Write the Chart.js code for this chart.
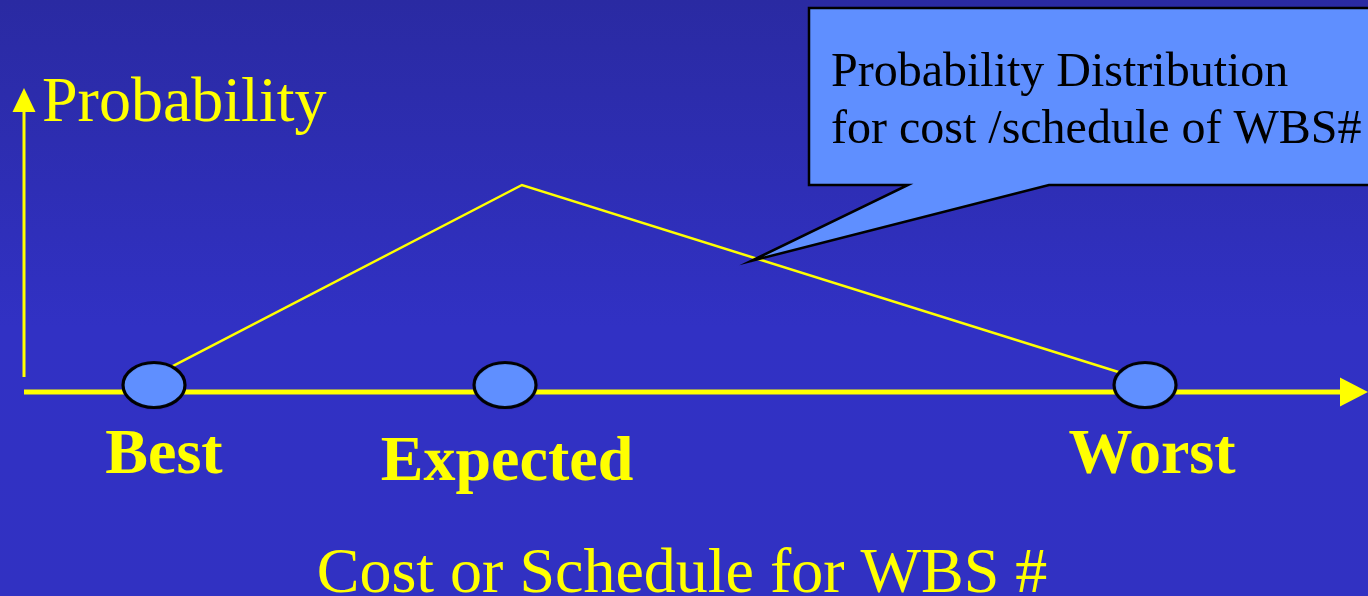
<!DOCTYPE html>
<html>
<head>
<meta charset="utf-8">
<title>Probability Distribution for cost / schedule of WBS#</title>
<script src="https://cdn.jsdelivr.net/npm/chart.js@4.4.1/dist/chart.umd.min.js"></script>
<style>
  html, body { margin: 0; padding: 0; overflow: hidden; background: #2e2eb6; }
  #wrap { width: 1368px; height: 596px; }
</style>
</head>
<body>
<div id="wrap"><canvas id="myChart" width="1368" height="596"></canvas></div>
<script>
// ---- data (x = cost/schedule, 0..100 ; y = probability, 0..1) ----
const categories = ['Best', 'Expected', 'Worst'];
const categoryX = [9.67, 35.79, 83.41];
const categoryY = [0.023, 0.023, 0.023];

const distX = [10.49, 37.05, 82.14];
const distY = [0.072, 0.681, 0.056];

const yAxisLabel = 'Probability';
const xAxisLabel = 'Cost or Schedule for WBS #';
const calloutLines = ['Probability Distribution', 'for cost /schedule of WBS#'];

// ---- styles ----
const YELLOW = '#ffff00';
const LIGHTBLUE = '#5f8fff';
const SERIF = '"Liberation Serif", "Times New Roman", serif';

// ellipse marker used as the point style
function ellipseMarker() {
    const c = document.createElement('canvas');
    c.width = 72; c.height = 54;
    const g = c.getContext('2d');
    g.beginPath();
    g.ellipse(36, 27, 31, 22.5, 0, 0, Math.PI * 2);
    g.fillStyle = LIGHTBLUE;
    g.fill();
    g.lineWidth = 3.2;
    g.strokeStyle = '#000';
    g.stroke();
    return c;
}

const slideDecor = {
    id: 'slideDecor',
    beforeDraw(chart) {
        const { ctx, width, height } = chart;
        const grad = ctx.createLinearGradient(0, 0, 0, height);
        grad.addColorStop(0, '#2a2aa2');
        grad.addColorStop(0.55, '#3131c4');
        grad.addColorStop(1, '#3131c2');
        ctx.save();
        ctx.fillStyle = grad;
        ctx.fillRect(0, 0, width, height);
        ctx.restore();
    },
    beforeDatasetsDraw(chart) {
        const { ctx, chartArea: a } = chart;
        ctx.save();
        ctx.fillStyle = YELLOW;
        ctx.strokeStyle = YELLOW;
        // vertical axis with arrow
        ctx.lineWidth = 3;
        ctx.beginPath();
        ctx.moveTo(a.left, a.bottom - 15);
        ctx.lineTo(a.left, a.top + 22);
        ctx.stroke();
        ctx.beginPath();
        ctx.moveTo(a.left, a.top);
        ctx.lineTo(a.left - 11.5, a.top + 24);
        ctx.lineTo(a.left + 11.5, a.top + 24);
        ctx.closePath();
        ctx.fill();
        // horizontal axis with arrow
        ctx.lineWidth = 5;
        ctx.beginPath();
        ctx.moveTo(a.left, a.bottom);
        ctx.lineTo(a.right - 26, a.bottom);
        ctx.stroke();
        ctx.beginPath();
        ctx.moveTo(a.right, a.bottom);
        ctx.lineTo(a.right - 28, a.bottom - 14.5);
        ctx.lineTo(a.right - 28, a.bottom + 14.5);
        ctx.closePath();
        ctx.fill();
        ctx.restore();
    },
    afterDatasetsDraw(chart) {
        const { ctx, chartArea: a, scales } = chart;
        ctx.save();

        // callout box
        ctx.beginPath();
        ctx.moveTo(809, 8);
        ctx.lineTo(1375, 8);
        ctx.lineTo(1375, 185);
        ctx.lineTo(1049, 185);
        ctx.lineTo(751, 261);
        ctx.lineTo(908, 185);
        ctx.lineTo(809, 185);
        ctx.closePath();
        ctx.fillStyle = LIGHTBLUE;
        ctx.fill();
        ctx.lineWidth = 2.5;
        ctx.lineJoin = 'miter';
        ctx.strokeStyle = '#000';
        ctx.stroke();

        ctx.fillStyle = '#000';
        ctx.font = '48px ' + SERIF;
        ctx.textAlign = 'left';
        ctx.textBaseline = 'alphabetic';
        ctx.fillText(calloutLines[0], 831, 86);
        ctx.fillText(calloutLines[1], 831, 143);

        // axis titles
        ctx.fillStyle = YELLOW;
        ctx.font = '64px ' + SERIF;
        ctx.fillText(yAxisLabel, a.left + 18, 121);
        ctx.textAlign = 'center';
        ctx.fillText(xAxisLabel, 682, 592);

        // category labels under the markers
        const nudgeX = [10, 2, 7];
        const nudgeY = [81, 88, 81];
        ctx.font = 'bold 64px ' + SERIF;
        categories.forEach((c, i) => {
            const px = scales.x.getPixelForValue(categoryX[i]);
            ctx.fillText(c, px + nudgeX[i], a.bottom + nudgeY[i]);
        });
        ctx.restore();
    }
};

const chart = new Chart(document.getElementById('myChart').getContext('2d'), {
    type: 'scatter',
    data: {
        datasets: [
            {
                label: 'Estimates',
                data: categoryX.map((x, i) => ({ x, y: categoryY[i] })),
                pointStyle: ellipseMarker(),
                pointRadius: 20,
                showLine: false,
                clip: false
            },
            {
                label: 'Probability distribution',
                data: distX.map((x, i) => ({ x, y: distY[i] })),
                showLine: true,
                borderColor: YELLOW,
                borderWidth: 2.5,
                pointRadius: 0,
                tension: 0,
                clip: false
            }
        ]
    },
    options: {
        responsive: false,
        devicePixelRatio: 1,
        animation: false,
        events: [],
        layout: { autoPadding: false, padding: { left: 24, right: 0, top: 88, bottom: 204 } },
        plugins: { legend: { display: false }, tooltip: { enabled: false } },
        scales: {
            x: { type: 'linear', min: 0, max: 100, display: false },
            y: { type: 'linear', min: 0, max: 1, display: false }
        }
    },
    plugins: [slideDecor]
});
</script>
</body>
</html>
